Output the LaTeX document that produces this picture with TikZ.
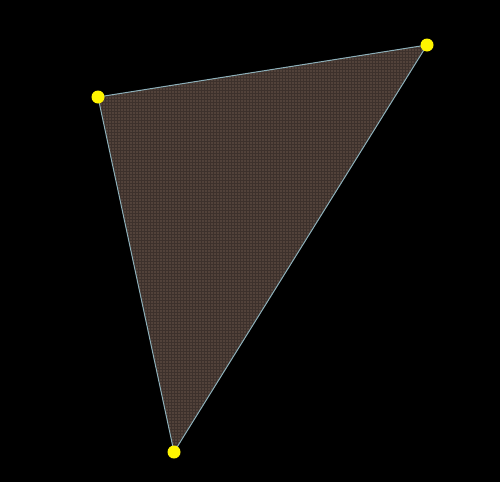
\documentclass[tikz,border=0pt]{standalone}
\definecolor{bg}{RGB}{0,0,0}
\definecolor{tri}{RGB}{82,66,58}
\definecolor{edge}{RGB}{140,175,185}
\definecolor{dot}{RGB}{255,245,0}
\tikzset{vertexdot/.style={circle,fill=dot,draw=none,minimum size=13pt,inner sep=0pt}}
\begin{document}
\begin{tikzpicture}[x=1pt,y=-1pt]
\fill[bg] (0,0) rectangle (500,482);
\useasboundingbox (0,0) rectangle (500,482);
\coordinate (A) at (98,97);
\coordinate (B) at (427,45);
\coordinate (C) at (174,452);
\fill[tri] (A) -- (B) -- (C) -- cycle;
\begin{scope}
\clip (A) -- (B) -- (C) -- cycle;
\draw[tri!75!black,line width=0.3pt,step=3pt] (90,40) grid (430,455);
\end{scope}
\draw[edge,line width=1pt] (A) -- (B) -- (C) -- cycle;
\node[vertexdot] (a) at (A) {};
\node[vertexdot] (b) at (B) {};
\node[vertexdot] (c) at (C) {};
\end{tikzpicture}
\end{document}
